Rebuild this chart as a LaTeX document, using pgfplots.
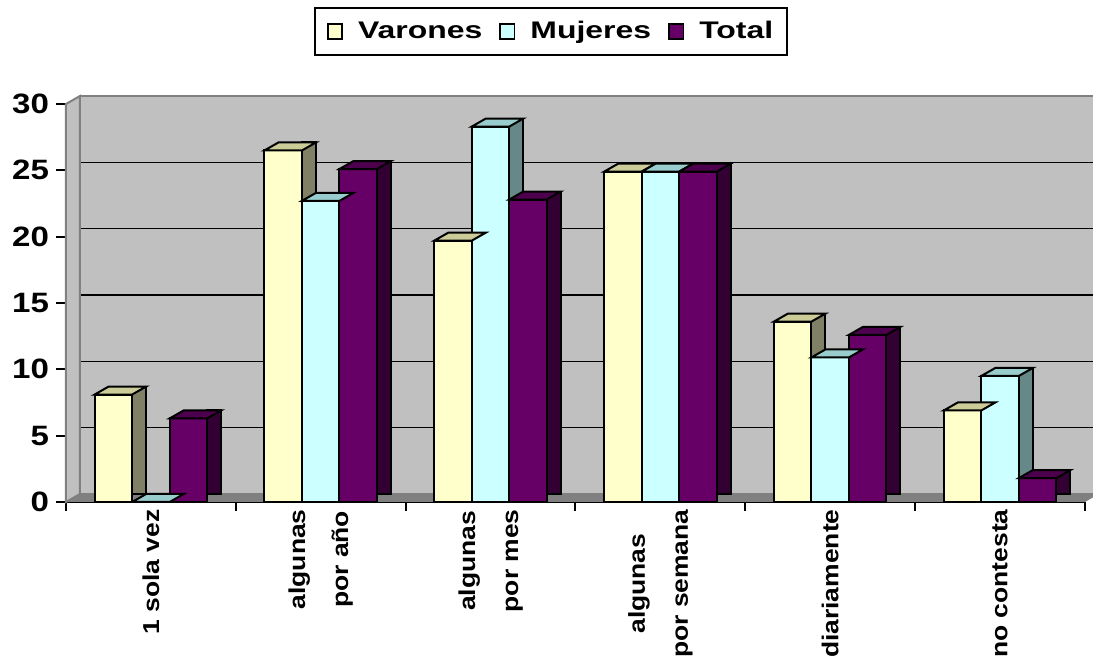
\documentclass[border=0pt]{standalone}
\usepackage{fontspec}
\setmainfont{Liberation Sans}
\newfontfamily\tickfont[FakeStretch=1.18]{Liberation Sans}
\newfontfamily\catfont[FakeStretch=1.15]{Liberation Sans}
\newfontfamily\legfont[FakeStretch=1.33]{Liberation Sans}
\usepackage{pgfplots}
\pgfplotsset{compat=1.18}
\usepackage{pgfplotstable}

\definecolor{varFront}{HTML}{FFFFCC}
\definecolor{varTop}{HTML}{CCCC99}
\definecolor{varSide}{HTML}{808066}
\definecolor{mujFront}{HTML}{CCFFFF}
\definecolor{mujTop}{HTML}{99CCCC}
\definecolor{mujSide}{HTML}{668888}
\definecolor{totFront}{HTML}{660066}
\definecolor{totTop}{HTML}{4D004D}
\definecolor{totSide}{HTML}{330033}
\definecolor{wallGray}{HTML}{C0C0C0}
\definecolor{floorGray}{HTML}{808080}

% top faces of the bars (bar width 18.75pt, depth 7pt x 4pt)
\pgfdeclareplotmark{topV}{%
  \pgfpathmoveto{\pgfpoint{-28.125pt}{0pt}}\pgfpathlineto{\pgfpoint{-9.375pt}{0pt}}%
  \pgfpathlineto{\pgfpoint{-2.375pt}{4pt}}\pgfpathlineto{\pgfpoint{-21.125pt}{4pt}}%
  \pgfpathclose\pgfusepathqfillstroke}
\pgfdeclareplotmark{topM}{%
  \pgfpathmoveto{\pgfpoint{-9.375pt}{0pt}}\pgfpathlineto{\pgfpoint{9.375pt}{0pt}}%
  \pgfpathlineto{\pgfpoint{16.375pt}{4pt}}\pgfpathlineto{\pgfpoint{-2.375pt}{4pt}}%
  \pgfpathclose\pgfusepathqfillstroke}
\pgfdeclareplotmark{topT}{%
  \pgfpathmoveto{\pgfpoint{9.375pt}{0pt}}\pgfpathlineto{\pgfpoint{28.125pt}{0pt}}%
  \pgfpathlineto{\pgfpoint{35.125pt}{4pt}}\pgfpathlineto{\pgfpoint{16.375pt}{4pt}}%
  \pgfpathclose\pgfusepathqfillstroke}

\pgfplotstableread{
x  V     M     T
0  8.1   0     6.3
1  26.5  22.7  25.1
2  19.7  28.3  22.8
3  24.9  24.9  24.9
4  13.6  10.9  12.6
5  6.9   9.5   1.8
}\datatable

\pgfplotsset{
  side/.style={ybar, bar width=7pt, bar shift=#1, yshift=4pt,
    draw=black, line width=1pt, forget plot},
  front/.style={ybar, bar width=18.75pt, bar shift=#1,
    draw=black, line width=1pt},
  topface/.style={only marks, forget plot},
}

\begin{document}
\begin{tikzpicture}
% back wall with grid
\begin{axis}[
  at={(7pt,4pt)},
  width=509.5pt, height=199pt, scale only axis,
  xmin=-0.5, xmax=5.5, ymin=0, ymax=30,
  xtick=\empty, ytick={5,10,...,30}, yticklabels={},
  major tick length=0pt,
  ymajorgrids, grid style={black, line width=0.7pt},
  axis background/.style={fill=wallGray},
  axis line style={draw=floorGray, line width=1pt},
]
\addplot[draw=none, forget plot] coordinates {(0,0)};
\end{axis}

\begin{axis}[
  width=509.5pt, height=199pt, scale only axis,
  xmin=-0.5, xmax=5.5, ymin=0, ymax=30,
  clip=false,
  axis x line*=bottom, axis y line*=left,
  axis line style={black, line width=1pt, -},
  ytick={0,5,...,30},
  xtick={0,...,5},
  minor xtick={-0.5,0.5,...,5.5},
  tick align=outside,
  major tick length=5pt, minor tick length=4.5pt,
  major x tick style={draw=none},
  minor x tick style={black, line width=1pt},
  y tick style={black, line width=1pt},
  /pgf/number format/assume math mode=true,
  yticklabel style={font=\tickfont\bfseries\fontsize{14}{14}\selectfont},
  xticklabels={{1 sola vez},{algunas\\por año},{algunas\\por mes},
               {algunas\\por semana},{diariamente},{no contesta}},
  xticklabel shift=-2.5pt,
  xticklabel style={font=\catfont\bfseries\fontsize{11.5}{21.5}\selectfont,
    rotate=90, anchor=east, align=center, inner sep=1pt},
  legend columns=-1,
  legend style={at={(0.476,1.182)}, anchor=center, draw=black,
    line width=0.85pt, inner xsep=6pt, inner ysep=5.75pt,
    font=\legfont\bfseries\fontsize{12}{13}\selectfont,
    nodes={inner sep=1pt},
    /tikz/every odd column/.append style={column sep=6.5pt},
    /tikz/every even column/.append style={column sep=7.5pt}},
  legend image code/.code={\draw[#1, line width=0.9pt, draw=black]
    (0pt,-3.6pt) rectangle (7.2pt,3.6pt);},
]
% floor and left wall
\fill[floorGray] (rel axis cs:0,0) -- (rel axis cs:1,0) -- ++(7pt,4pt)
  -- ([shift={(7pt,4pt)}]rel axis cs:0,0) -- cycle;
\filldraw[fill=wallGray, draw=floorGray, line width=1pt]
  (rel axis cs:0,0) -- (rel axis cs:0,1) -- ++(7pt,4pt)
  -- ([shift={(7pt,4pt)}]rel axis cs:0,0) -- cycle;

% back faces, drawn left to right
\addplot[side=-5.875pt, fill=varSide] table[x=x,y=V]{\datatable};
\addplot[topface, mark=topV, mark options={fill=varTop, draw=black, line width=1pt}]
  table[x=x,y=V]{\datatable};
\addplot[side=12.875pt, fill=mujSide] table[x=x,y=M]{\datatable};
\addplot[topface, mark=topM, mark options={fill=mujTop, draw=black, line width=1pt}]
  table[x=x,y=M]{\datatable};
\addplot[side=31.625pt, fill=totSide] table[x=x,y=T]{\datatable};
\addplot[topface, mark=topT, mark options={fill=totTop, draw=black, line width=1pt}]
  table[x=x,y=T]{\datatable};

% front faces
\addplot[front=-18.75pt, fill=varFront] table[x=x,y=V]{\datatable};
\addplot[front=0pt, fill=mujFront] table[x=x,y=M]{\datatable};
\addplot[front=18.75pt, fill=totFront] table[x=x,y=T]{\datatable};
\legend{Varones, Mujeres, Total}
\end{axis}
\pgfresetboundingbox
\path[use as bounding box] (-33pt,-80.5pt) rectangle (513.5pt,251pt);
\end{tikzpicture}
\end{document}
